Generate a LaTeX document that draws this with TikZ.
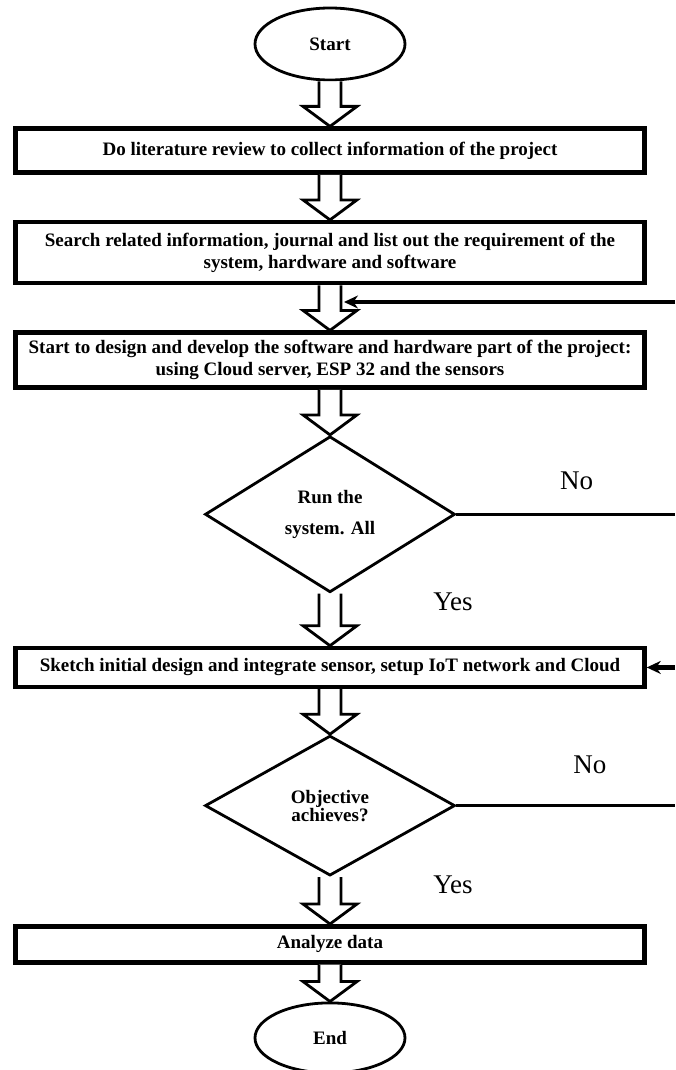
\documentclass[tikz,border=0pt]{standalone}
\usepackage{fontspec}
\setmainfont{Liberation Serif}
\usepackage{tikz}
\usetikzlibrary{arrows.meta,positioning,shapes.geometric,calc}

\newcommand{\boxfont}{\bfseries\fontsize{19}{22}\selectfont}
\newcommand{\lblfont}{\fontsize{27}{30}\selectfont}
% big hollow arrow between two nodes
\newcommand{\hollowarrow}[2]{%
  \draw[hollow] let \p1=(#1.south), \p2=(#2.north) in
    (\x1-11pt,\y1) -- (\x1-11pt,\y2+20pt) -- (\x1-27pt,\y2+20pt) -- (\x2,\y2)
    -- (\x1+27pt,\y2+20pt) -- (\x1+11pt,\y2+20pt) -- (\x1+11pt,\y1);}

\begin{document}
\begin{tikzpicture}[
    x=1pt, y=1pt,
    node distance=45pt,
    terminal/.style={ellipse, draw, line width=2.8pt, minimum width=150pt,
                     minimum height=72pt, font=\boxfont},
    stepbox/.style={rectangle, draw, line width=4.5pt, minimum width=629pt,
                    align=center, font=\boxfont, inner sep=2pt},
    decision/.style={diamond, draw, line width=2.8pt, minimum width=250pt,
                     align=center, font=\boxfont, inner sep=0pt},
    hollow/.style={line width=2.8pt, fill=white, line join=miter},
    feedback/.style={line width=4.5pt, -{Stealth[length=14pt,width=13pt]}},
    noline/.style={line width=3.3pt},
    lbl/.style={font=\lblfont, inner sep=0pt}
  ]
    \useasboundingbox (0,0) rectangle (675,-1070);

    \node[terminal] (start) at (330,-44) {Start};
    \node[stepbox, minimum height=44pt, below=of start] (lit)
        {Do literature review to collect information of the project};
    \node[stepbox, minimum height=61pt, below=of lit] (search)
        {Search related information, journal and list out the requirement of the\\
         system, hardware and software};
    \node[stepbox, minimum height=55pt, below=of search] (design)
        {Start to design and develop the software and hardware part of the project:\\
         using Cloud server, ESP 32 and the sensors};
    \node[decision, minimum height=156pt, below=of design] (run)
        {Run the\\[9pt]system. All};
    \node[stepbox, minimum height=39pt, below=52pt of run] (sketch)
        {Sketch initial design and integrate sensor, setup IoT network and Cloud};
    \node[decision, minimum height=140pt, below=of sketch] (objective)
        {Objective\\[-4pt]achieves?};
    \node[stepbox, minimum height=36pt, below=47pt of objective] (analyze)
        {Analyze data};
    \node[terminal, minimum height=70pt, below=37pt of analyze] (finish) {End};

    \hollowarrow{start}{lit}
    \hollowarrow{lit}{search}
    \hollowarrow{search}{design}
    \hollowarrow{design}{run}
    \hollowarrow{run}{sketch}
    \hollowarrow{sketch}{objective}
    \hollowarrow{objective}{analyze}
    \hollowarrow{analyze}{finish}

    % loop back lines (cut at the right edge)
    \coordinate (edge1) at (675,-302);
    \coordinate (hit1) at ([xshift=14pt]search.south |- edge1);
    \coordinate (edge2) at (sketch.east -| edge1);
    \coordinate (nofree1) at (run.east -| edge1);
    \coordinate (nofree2) at (objective.east -| edge1);

    \draw[feedback] (edge1) -- (hit1);
    \draw[feedback] (edge2) -- (sketch.east);
    \draw[noline] (run.east) -- node[lbl, pos=0.55, yshift=34pt] {No} (nofree1);
    \draw[noline] (objective.east) -- node[lbl, pos=0.61, yshift=41pt] {No} (nofree2);

    \node[lbl] (yes1) at ($(run.south)+(123pt,-8pt)$) {Yes};
    \node[lbl] (yes2) at ($(objective.south)+(123pt,-8pt)$) {Yes};
  \end{tikzpicture}
\end{document}
